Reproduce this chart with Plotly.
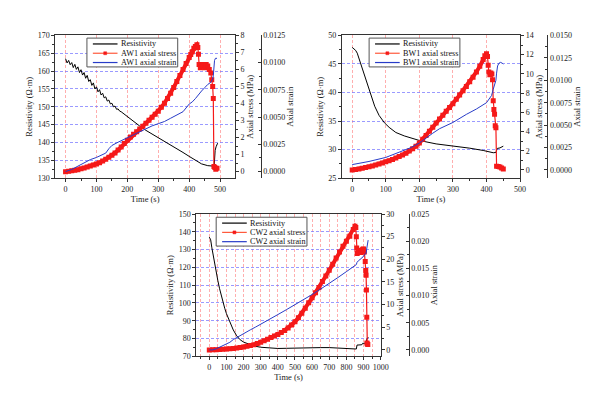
import plotly.graph_objects as go

# ---------------- AW1 ----------------
aw1_res_t = [0,5,10,15,20,25,30,35,40,45,50,55,60,65,70,75,80,85,90,95,100,105,110,115,120,125,130,135,140,145,150,155,160,165,170,175,180,
             190,200,220,240,260,280,300,320,340,360,380,400,420,440,460,475,481,482,484,487,492]
aw1_res = [163.5,162.3,163.0,161.8,162.4,161.0,161.9,160.5,161.2,159.6,160.4,158.9,159.6,158.0,158.8,157.1,157.6,156.0,156.7,155.0,155.6,154.2,154.8,153.3,153.8,152.5,152.8,151.6,151.9,150.8,151.0,150.0,150.2,149.3,149.4,148.8,148.6,
           147.9,147.3,146.0,144.6,143.4,142.4,141.4,140.4,139.3,138.3,137.2,136.1,135.0,134.0,133.5,133.4,133.6,136.5,137.8,138.8,139.8]
aw1_stress_t = [0,10,20,30,40,50,60,70,80,90,100,110,120,130,140,150,160,170,180,190,200,210,220,230,240,250,260,270,280,290,300,310,320,330,340,350,360,370,380,390,400,405,410,415,420,425,428,430,432,436,440,445,450,455,460,465,470,473,476,478,480,483,486,490]
aw1_stress = [0.0,0.02,0.05,0.08,0.12,0.17,0.22,0.27,0.33,0.39,0.45,0.53,0.62,0.73,0.85,0.97,1.1,1.27,1.45,1.65,1.85,2.03,2.2,2.35,2.5,2.67,2.85,3.02,3.2,3.37,3.55,3.78,4.02,4.3,4.6,4.95,5.3,5.65,6.0,6.35,6.7,6.88,7.05,7.25,7.35,7.45,7.3,6.9,6.3,6.1,6.2,6.3,6.1,6.3,6.2,6.0,5.8,5.4,5.0,4.3,0.3,0.25,0.15,0.2]
aw1_strain_t = [0,20,40,60,80,100,120,130,140,150,170,200,230,255,280,300,320,340,360,380,400,410,420,430,440,450,460,470,476,478,480,482,485,490]
aw1_strain = [0.0,0.0002,0.0005,0.0008,0.0011,0.0013,0.0016,0.0017,0.0021,0.0024,0.0027,0.0031,0.0035,0.0039,0.0042,0.0044,0.0046,0.0049,0.0052,0.0055,0.0062,0.0064,0.0067,0.0071,0.0074,0.0077,0.0080,0.0082,0.0085,0.0088,0.0096,0.0102,0.0104,0.0104]

# ---------------- BW1 ----------------
bw1_res_t = [0,5,10,15,20,27,35,47,57,67,80,96,110,130,155,180,200,250,300,350,390,410,420,428,430,432,440,445,450]
bw1_res = [47.9,47.7,47.4,46.9,46.0,45.0,43.3,41.0,39.2,37.6,36.0,34.7,33.9,33.0,32.4,31.9,31.6,31.0,30.65,30.25,29.85,29.6,29.45,29.5,30.0,30.2,30.3,30.5,30.6]
bw1_stress_t = [0,10,20,30,40,50,60,70,80,90,100,110,120,130,140,150,160,170,180,190,200,210,220,230,240,250,260,270,280,290,300,310,320,330,340,350,360,370,380,390,395,400,403,405,407,410,413,416,418,420,422,424,426,428,430,435,440,445,450]
bw1_stress = [0.0,0.05,0.1,0.17,0.25,0.33,0.42,0.52,0.62,0.73,0.85,0.97,1.1,1.25,1.4,1.57,1.75,1.97,2.2,2.48,2.8,3.2,3.6,4.03,4.45,4.88,5.3,5.7,6.1,6.5,6.9,7.35,7.8,8.25,8.7,9.17,9.65,10.2,10.8,11.5,11.9,12.1,11.8,10.9,10.2,9.9,10.1,10.0,9.4,7.2,6.3,5.8,4.6,4.4,0.4,0.35,0.3,0.2,0.1]
bw1_strain_t = [0,50,100,150,175,200,220,240,260,300,340,370,400,410,415,420,425,428,430,433,437,442,447,450]
bw1_strain = [0.0006,0.00095,0.0014,0.0021,0.0025,0.0030,0.0036,0.0041,0.0046,0.0053,0.0062,0.0068,0.0075,0.0080,0.0083,0.0090,0.0097,0.0100,0.0108,0.0116,0.0119,0.0120,0.0119,0.0118]

# ---------------- CW2 ----------------
cw2_res_t = [0,8,15,25,40,50,60,70,80,90,100,120,140,160,180,200,230,260,300,350,400,450,500,580,650,700,771,820,858,862,870,880,890,895,905,915,918,925,928]
cw2_res = [137,135.5,131,125,117,112.5,108,104,100.5,97,94,89,84.8,81.5,79.3,78,76.8,75.8,75.1,74.6,74.4,74.5,74.7,75.0,74.9,74.9,74.6,74.3,74.1,76.3,76.4,76.2,76.5,77.3,77.4,77.3,79.5,80.3,80.8]
cw2_stress_t = [0,20,40,60,80,100,120,140,160,180,200,220,240,260,280,300,320,340,360,380,400,420,440,460,480,500,520,540,560,580,600,620,640,660,680,700,720,740,760,780,800,820,840,850,855,858,860,863,868,875,885,895,900,905,910,913,915,917,919,920,922,925]
cw2_stress = [0.0,0.02,0.05,0.08,0.12,0.17,0.23,0.3,0.4,0.5,0.62,0.78,0.95,1.15,1.4,1.68,2.0,2.35,2.75,3.05,3.4,3.85,4.3,4.85,5.5,6.2,7.1,8.1,9.2,10.4,11.5,12.6,13.8,15.1,16.3,17.6,18.9,20.3,21.6,22.9,24.0,25.1,26.6,27.3,27.0,25.0,22.5,21.3,21.6,22.0,21.5,22.2,22.3,21.6,19.5,17.5,16.5,13.2,7.2,1.5,1.3,1.2]
cw2_strain_t = [0,20,40,60,80,100,120,140,158,180,200,215,240,270,300,350,400,450,500,550,590,650,700,750,800,848,858,862,870,890,905,915,918,921,925,927]
cw2_strain = [0.0,0.0,0.0002,0.0005,0.0008,0.0011,0.0014,0.0019,0.00225,0.0026,0.0030,0.0033,0.0037,0.0042,0.0047,0.0056,0.0065,0.0074,0.0083,0.0092,0.0100,0.0112,0.0122,0.0133,0.0144,0.0154,0.0157,0.0161,0.0164,0.0169,0.0174,0.0178,0.0185,0.0195,0.0201,0.0202]

W, H = 600, 397
FONT = "Liberation Serif"
RED_GRID = "rgba(255,120,120,0.6)"
BLUE_GRID = "rgba(120,120,255,0.75)"
GRID_DASH = "3px,2px"
AX = "#333"
C_RES = "black"
C_STRESS = "rgb(245,25,25)"
C_STRESS_LINE = "rgb(255,90,60)"
C_STRAIN = "rgb(40,60,200)"

panels = [
    dict(name="AW1", rt=aw1_res_t, r=aw1_res, st=aw1_stress_t, s=aw1_stress, et=aw1_strain_t, e=aw1_strain,
         px=(48, 230), py=(24, 170), spos=256,
         xr=[-33, 548], xd=100, xminor=50, xgridminor=False,
         rr=[130, 170], rd=5, rminor=2.5,
         sr=[-0.38, 8], sd=1, sminor=0.5,
         er=[-0.0006, 0.0125], ed=0.0025, eminor=0.00125, efmt=".4f",
         leg=(80, 26.7)),
    dict(name="BW1", rt=bw1_res_t, r=bw1_res, st=bw1_stress_t, s=bw1_stress, et=bw1_strain_t, e=bw1_strain,
         px=(338.3, 519), py=(24, 170), spos=546.7,
         xr=[-31, 500], xd=100, xminor=50, xgridminor=False,
         rr=[25, 50], rd=5, rminor=2.5,
         sr=[-0.85, 14], sd=2, sminor=1,
         er=[-0.00091, 0.015], ed=0.0025, eminor=0.00125, efmt=".4f",
         leg=(366, 26.7)),
    dict(name="CW2", rt=cw2_res_t, r=cw2_res, st=cw2_stress_t, s=cw2_stress, et=cw2_strain_t, e=cw2_strain,
         px=(191, 377.7), py=(206.7, 352.3), spos=406,
         xr=[-75, 1000], xd=100, xminor=50, xgridminor=True,
         rr=[70, 150], rd=10, rminor=5,
         sr=[-1.42, 30], sd=5, sminor=2.5,
         er=[-0.00118, 0.025], ed=0.005, eminor=0.0025, efmt=".3f",
         leg=(211, 210)),
]

fig = go.Figure()
layout = dict(width=W, height=H, margin=dict(l=0, r=0, t=0, b=0),
              paper_bgcolor="white", plot_bgcolor="white", showlegend=False,
              font=dict(family=FONT, size=8, color="#222"))

tickfont = dict(family=FONT, size=8, color="#222")
titlefont = dict(family=FONT, size=8.5, color="#222")
shapes = []
annotations = []


def px_x(x):
    return x / W


def px_y(y):
    return 1 - y / H


for i, p in enumerate(panels):
    xi = "" if i == 0 else str(i + 1)
    yr = 3 * i + 1
    ys = 3 * i + 2
    ye = 3 * i + 3
    yr_n = "" if yr == 1 else str(yr)
    xdom = [p["px"][0] / W, p["px"][1] / W]
    ydom = [1 - p["py"][1] / H, 1 - p["py"][0] / H]

    layout["xaxis" + xi] = dict(
        domain=xdom, anchor="y" + yr_n, range=p["xr"], dtick=p["xd"], tick0=0,
        showline=True, linecolor=AX, linewidth=1, mirror=True,
        ticks="outside", ticklen=3, tickcolor=AX, tickfont=tickfont,
        showgrid=True, gridcolor=RED_GRID, griddash=GRID_DASH, gridwidth=0.8,
        minor=dict(dtick=p["xminor"], tick0=0, ticks="outside", ticklen=2, tickcolor=AX,
                   showgrid=p["xgridminor"], gridcolor=RED_GRID, griddash=GRID_DASH, gridwidth=0.8),
        zeroline=False, title=dict(text="Time (s)", font=titlefont, standoff=2))
    layout["yaxis" + yr_n] = dict(
        domain=ydom, anchor="x" + xi, range=p["rr"], dtick=p["rd"],
        showline=True, linecolor=AX, linewidth=1,
        ticks="outside", ticklen=3, tickcolor=AX, tickfont=tickfont,
        showgrid=True, gridcolor=BLUE_GRID, griddash=GRID_DASH, gridwidth=0.8,
        minor=dict(dtick=p["rminor"], ticks="outside", ticklen=2, tickcolor=AX),
        zeroline=False, title=dict(text="Resistivity (Ω·m)", font=titlefont, standoff=3))
    layout["yaxis" + str(ys)] = dict(
        domain=ydom, anchor="x" + xi, overlaying="y" + yr_n, side="right",
        range=p["sr"], dtick=p["sd"], tick0=0,
        showline=True, linecolor=AX, linewidth=1,
        ticks="outside", ticklen=3, tickcolor=AX, tickfont=tickfont,
        minor=dict(dtick=p["sminor"], tick0=0, ticks="outside", ticklen=2, tickcolor=AX),
        showgrid=False, zeroline=False,
        title=dict(text="Axial stress (MPa)", font=titlefont, standoff=3))
    layout["yaxis" + str(ye)] = dict(
        domain=ydom, anchor="free", position=p["spos"] / W, overlaying="y" + yr_n, side="right",
        range=p["er"], dtick=p["ed"], tick0=0, tickformat=p["efmt"],
        showline=True, linecolor=AX, linewidth=1,
        ticks="inside", ticklen=3, tickcolor=AX, tickfont=tickfont,
        minor=dict(dtick=p["eminor"], tick0=0, ticks="inside", ticklen=2, tickcolor=AX),
        showgrid=False, zeroline=False,
        title=dict(text="Axial strain", font=titlefont, standoff=1))

    fig.add_trace(go.Scatter(x=p["rt"], y=p["r"], mode="lines", name="Resistivity",
                             line=dict(color=C_RES, width=1),
                             xaxis="x" + xi, yaxis="y" + yr_n))
    # dense marker band up to the peak (thick line under the markers)
    kpk = p["s"].index(max(p["s"]))
    fig.add_trace(go.Scatter(x=p["st"][:kpk + 2], y=p["s"][:kpk + 2], mode="lines",
                             line=dict(color=C_STRESS, width=4), hoverinfo="skip",
                             xaxis="x" + xi, yaxis="y" + str(ys)))
    fig.add_trace(go.Scatter(x=p["st"], y=p["s"], mode="lines+markers", name=p["name"] + " axial stress",
                             line=dict(color=C_STRESS, width=1.2),
                             marker=dict(symbol="square", size=5, color=C_STRESS),
                             xaxis="x" + xi, yaxis="y" + str(ys)))
    fig.add_trace(go.Scatter(x=p["et"], y=p["e"], mode="lines", name=p["name"] + " axial strain",
                             line=dict(color=C_STRAIN, width=1),
                             xaxis="x" + xi, yaxis="y" + str(ye)))

    # custom compact legend (box, samples, labels)
    L, T = p["leg"]
    bw, bh = 92, 29.5
    shapes.append(dict(type="rect", xref="paper", yref="paper", layer="above",
                       x0=px_x(L), x1=px_x(L + bw), y0=px_y(T + bh), y1=px_y(T),
                       line=dict(color="#555", width=1), fillcolor="white"))
    entries = [("Resistivity", C_RES, False),
               (p["name"] + " axial stress", C_STRESS_LINE, True),
               (p["name"] + " axial strain", C_STRAIN, False)]
    for k, (label, col, mk) in enumerate(entries):
        yy = T + 6 + k * 9.5
        shapes.append(dict(type="line", xref="paper", yref="paper", layer="above",
                           x0=px_x(L + 6), x1=px_x(L + 31), y0=px_y(yy), y1=px_y(yy),
                           line=dict(color=col, width=1.2)))
        if mk:
            shapes.append(dict(type="rect", xref="paper", yref="paper", layer="above",
                               x0=px_x(L + 17), x1=px_x(L + 20), y0=px_y(yy + 1.5), y1=px_y(yy - 1.5),
                               line=dict(color=C_STRESS, width=0.5), fillcolor=C_STRESS))
        annotations.append(dict(text=label, xref="paper", yref="paper", x=px_x(L + 32.5), y=px_y(yy),
                                xanchor="left", yanchor="middle", showarrow=False,
                                font=dict(family=FONT, size=8.2, color="#111")))

layout["shapes"] = shapes
layout["annotations"] = annotations
fig.update_layout(**layout)
fig.write_html("out.html")
